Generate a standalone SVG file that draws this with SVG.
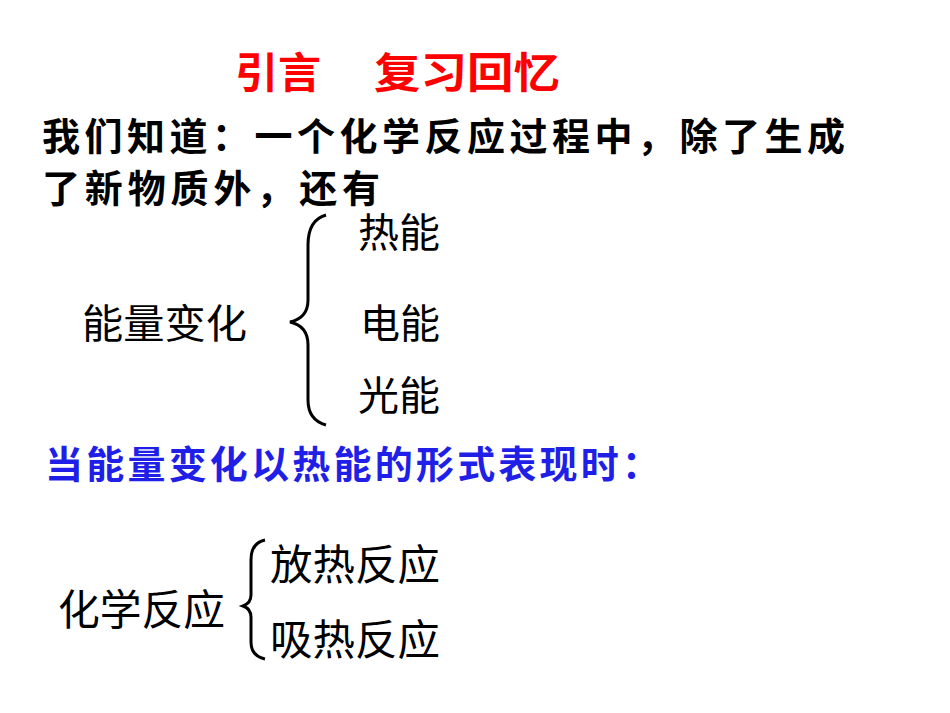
<svg xmlns="http://www.w3.org/2000/svg" width="950" height="713" viewBox="0 0 950 713">
<style>
text{font-family:"Noto Sans CJK SC","Liberation Sans",sans-serif;}
.b{font-weight:bold;}
.br{fill:none;stroke:#000;stroke-width:3;}
</style>
<rect width="950" height="713" fill="#fff"/>
<g id="title" font-size="42" class="b" fill="#ff0000">
<text x="235" y="88" textLength="86" lengthAdjust="spacingAndGlyphs">引言</text>
<text x="374" y="88" textLength="186" lengthAdjust="spacingAndGlyphs">复习回忆</text>
</g>
<g id="intro">
<text x="42" y="150" font-size="38" class="b" textLength="803" lengthAdjust="spacing">我们知道：一个化学反应过程中，除了生成</text>
<text x="42" y="202" font-size="38" class="b" textLength="338" lengthAdjust="spacing">了新物质外，还有</text>
</g>
<g id="energy" font-size="40">
<text x="82" y="338" textLength="165" lengthAdjust="spacingAndGlyphs">能量变化</text>
<text x="358" y="247" textLength="82" lengthAdjust="spacingAndGlyphs">热能</text>
<text x="360" y="338" textLength="80" lengthAdjust="spacingAndGlyphs">电能</text>
<text x="358" y="410" textLength="82" lengthAdjust="spacingAndGlyphs">光能</text>
</g>
<g id="connectors">
<path class="br" d="M326,215 Q308,220 308,245 L308,300 Q308,318 290,322 Q308,326 308,345 L308,400 Q308,420 326,425"/>
<path class="br" d="M265,540 Q251,543 251,560 L251,595 Q251,603 243,606 Q251,609 251,617 L251,642 Q251,656 265,659"/>
</g>
<g id="heat"><text x="45" y="478" font-size="38" class="b" fill="#1f1fe8" textLength="615" lengthAdjust="spacing">当能量变化以热能的形式表现时：</text></g>
<g id="reaction" font-size="42">
<text x="58" y="625" textLength="167" lengthAdjust="spacingAndGlyphs">化学反应</text>
<text x="270" y="580" textLength="170" lengthAdjust="spacingAndGlyphs">放热反应</text>
<text x="270" y="655" textLength="170" lengthAdjust="spacingAndGlyphs">吸热反应</text>
</g>
</svg>
